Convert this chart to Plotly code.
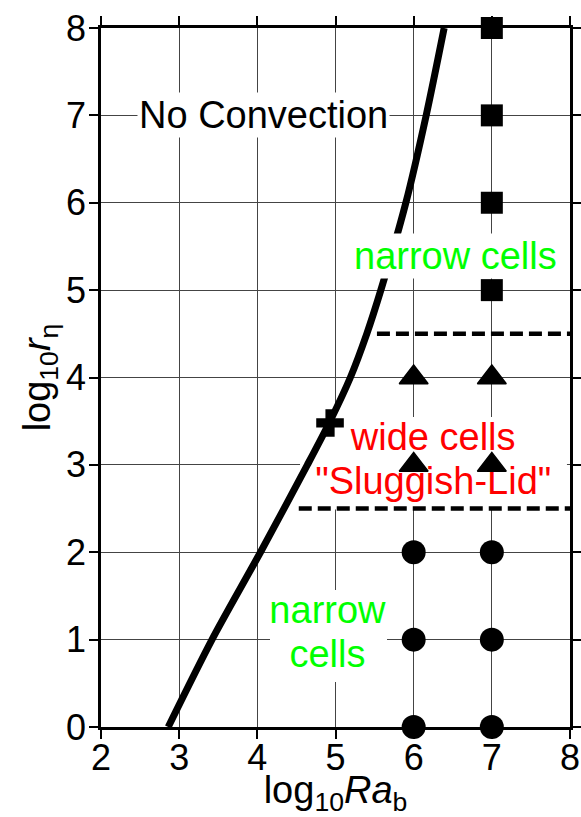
import plotly.graph_objects as go

# Onset-of-convection boundary (log10 Ra_b vs log10 r_eta)
boundary_log_ra = [2.86, 3.42, 4.04, 4.64, 4.93, 5.19, 5.40, 5.58, 5.90, 6.16, 6.39]
boundary_log_r = [0, 1, 2, 3, 3.5, 4, 4.5, 5, 6, 7, 8]

# Critical point marked on the boundary
onset_log_ra = [4.93]
onset_log_r = [3.48]

# Runs: narrow cells at low viscosity contrast
narrow_low_log_ra = [6, 6, 6, 7, 7, 7]
narrow_low_log_r = [0, 1, 2, 0, 1, 2]

# Runs: wide cells, sluggish-lid regime
wide_log_ra = [6, 6, 7, 7]
wide_log_r = [3, 4, 3, 4]

# Runs: narrow cells at high viscosity contrast
narrow_high_log_ra = [7, 7, 7, 7]
narrow_high_log_r = [5, 6, 7, 8]

# Regime transitions (dashed)
transition_log_r = [4.5, 2.5]
transition_start_log_ra = [5.53, 4.53]
x_max = 8

x_ticks = [2, 3, 4, 5, 6, 7, 8]
y_ticks = [0, 1, 2, 3, 4, 5, 6, 7, 8]

FONT = "Arial, 'Liberation Sans', sans-serif"
GREEN = "#00FF00"
RED = "#FF0000"

fig = go.Figure()

# boundary curve
fig.add_trace(go.Scatter(
    x=boundary_log_ra, y=boundary_log_r, mode="lines",
    line=dict(color="black", width=7, shape="spline", smoothing=0.8),
    hoverinfo="skip",
))

# dashed regime transitions
for r, x0 in zip(transition_log_r, transition_start_log_ra):
    fig.add_trace(go.Scatter(
        x=[x0, x_max], y=[r, r], mode="lines",
        line=dict(color="black", width=4.5, dash="13px,6px"),
        hoverinfo="skip",
    ))

# regime labels drawn beneath the markers
fig.add_trace(go.Scatter(
    x=[6.25, 6.25], y=[3.276, 2.772], mode="text",
    text=["wide cells", "\"Sluggish-Lid\""],
    textposition="middle center",
    textfont=dict(family=FONT, size=38, color=RED),
    hoverinfo="skip",
))
fig.add_trace(go.Scatter(
    x=[4.897, 4.897], y=[1.299, 0.793], mode="text",
    text=["narrow", "cells"],
    textposition="middle center",
    textfont=dict(family=FONT, size=38, color=GREEN),
    hoverinfo="skip",
))

# markers
fig.add_trace(go.Scatter(
    x=narrow_low_log_ra, y=narrow_low_log_r, mode="markers",
    marker=dict(symbol="circle", size=24, color="black"),
    cliponaxis=False,
))
fig.add_trace(go.Scatter(
    x=wide_log_ra, y=wide_log_r, mode="markers",
    marker=dict(symbol="triangle-up", size=25, color="black",
                line=dict(color="black", width=1.5)),
    cliponaxis=False,
))
fig.add_trace(go.Scatter(
    x=narrow_high_log_ra, y=narrow_high_log_r, mode="markers",
    marker=dict(symbol="square", size=22, color="black"),
    cliponaxis=False,
))
fig.add_trace(go.Scatter(
    x=onset_log_ra, y=onset_log_r, mode="markers",
    marker=dict(symbol="cross", size=23, color="black"),
    cliponaxis=False,
))

# white panels behind the lower labels (hide grid, stay under the data)
fig.add_shape(type="rect", xref="x", yref="y", x0=4.546, x1=7.961, y0=2.49, y1=3.548,
              fillcolor="white", line=dict(width=0), layer="between")
fig.add_shape(type="rect", xref="x", yref="y", x0=4.162, x1=5.659, y0=0.515, y1=1.568,
              fillcolor="white", line=dict(width=0), layer="between")

# upper labels with their own white backgrounds
fig.add_annotation(x=4.085, y=7.004, xref="x", yref="y", text="No Convection",
                   showarrow=False, bgcolor="white", borderpad=1,
                   font=dict(family=FONT, size=38, color="black"))
fig.add_annotation(x=6.53, y=5.396, xref="x", yref="y", text="narrow cells",
                   showarrow=False, bgcolor="white", borderpad=1,
                   font=dict(family=FONT, size=38, color=GREEN))

axis_common = dict(
    showline=True, linecolor="black", linewidth=2.5, mirror="ticks",
    ticks="outside", ticklen=9, tickwidth=1.5, tickcolor="black",
    showgrid=True, gridcolor="#444444", gridwidth=1, zeroline=False,
    tickfont=dict(family=FONT, size=36, color="black"),
    automargin=False,
)

fig.update_xaxes(
    range=[2, 8], tickvals=x_ticks, ticktext=[str(v) for v in x_ticks],
    ticklabelstandoff=-12,
    title=dict(text="log<sub>10</sub><i>Ra</i><sub>b</sub>",
               font=dict(family=FONT, size=38, color="black"), standoff=16),
    **axis_common,
)
fig.update_yaxes(
    range=[0, 8], tickvals=y_ticks, ticktext=[str(v) for v in y_ticks],
    ticklabelstandoff=-4,
    title=dict(text="log<sub>10</sub><i>r</i><sub>η</sub>",
               font=dict(family=FONT, size=38, color="black"), standoff=4),
    **axis_common,
)

fig.update_layout(
    width=581, height=817,
    margin=dict(l=101, r=11, t=28, b=90),
    paper_bgcolor="white", plot_bgcolor="white",
    showlegend=False,
    font=dict(family=FONT, color="black"),
)

fig.write_html("out.html")
